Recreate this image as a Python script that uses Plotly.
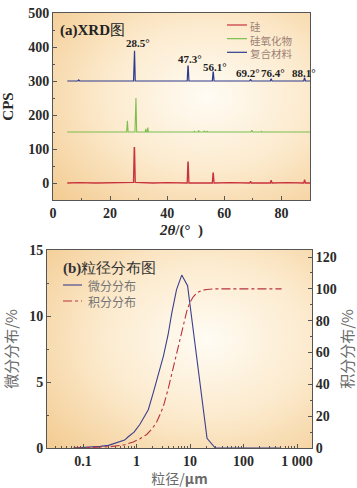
import base64
import plotly.graph_objects as go

# ---------------- (a) XRD data ----------------
si_x = [5, 9, 15, 22, 28.2, 28.45, 28.55, 28.8, 35, 40, 47.0, 47.25, 47.35, 47.6, 52, 55.8, 56.05, 56.15, 56.4,
        62, 68.9, 69.2, 69.5, 76.1, 76.4, 76.7, 82, 87.8, 88.1, 88.4, 90]
si_y = [0, 1, 0, 1, 2, 104, 104, 2, 0, 1, 0, 61, 61, 0, 1, 0, 29, 29, 0,
        1, 0, 5, 0, 0, 8, 0, 1, 0, 10, 0, 0]

ox_x = [5, 14.0, 14.2, 14.4, 20.0, 20.2, 20.4, 25.8, 26.05, 26.3, 28.7, 28.95, 29.05, 29.3, 32.3, 32.5, 32.7, 33.0,
        33.2, 33.4, 38.8, 39.0, 39.2, 40.8, 41.0, 41.2, 49.3, 49.5, 49.7, 50.8, 51.0, 51.2, 52.8, 53.0, 53.2,
        53.8, 54.0, 54.2, 57.8, 58.0, 58.2, 63.8, 64.0, 64.2, 69.3, 69.6, 69.9, 72.8, 73.0, 73.2, 79.8, 80.0,
        80.2, 90]
ox_y = [150, 150, 152, 150, 150, 152, 150, 150, 183, 150, 150, 250, 250, 150, 150, 159, 150, 150,
        163, 150, 150, 152, 150, 150, 152, 150, 150, 153, 150, 150, 155, 150, 150, 154, 150,
        150, 153, 150, 150, 152, 150, 150, 152, 150, 150, 155, 150, 150, 152, 150, 150, 152,
        150, 150]

cm_x = [5, 8.7, 9.0, 9.3, 28.2, 28.45, 28.55, 28.8, 47.0, 47.25, 47.35, 47.6, 55.8, 56.05, 56.15, 56.4,
        68.9, 69.2, 69.5, 76.1, 76.4, 76.7, 87.8, 88.1, 88.4, 90]
cm_y = [300, 300, 303, 300, 300, 389, 389, 300, 300, 344, 344, 300, 300, 326, 326, 300,
        300, 305, 300, 300, 307, 300, 300, 310, 300, 300]

peak_x = [29.7, 47.9, 56.6, 68.4, 77.0, 87.9]
peak_y = [412, 365, 342, 324, 324, 324]
peak_txt = ["28.5°", "47.3°", "56.1°", "69.2°", "76.4°", "88.1°"]

xrd_names = ["硅", "硅氧化物", "复合材料"]
xrd_colors = ["#C8323C", "#7DBE4E", "#2E3A8C"]

# ---------------- (b) particle size data ----------------
diff_x = [0.066, 0.1, 0.15, 0.21, 0.3, 0.43, 0.6, 0.7, 0.9, 1.16, 1.66, 2.06, 2.6, 3.2, 3.9, 4.55,
          5.6, 7.0, 9.0, 20.8, 29.6, 100, 480]
diff_y = [0, 0.03, 0.07, 0.12, 0.2, 0.38, 0.6, 0.85, 1.2, 1.8, 2.9, 4.2, 5.8, 7.0, 8.6, 10.2,
          12.0, 13.1, 12.3, 0.73, 0, 0, 0]

cum_x = [0.07, 0.2, 0.32, 0.6, 0.87, 1.16, 1.55, 2.0, 2.39, 2.75, 3.17, 3.9, 4.9, 5.6, 6.5, 7.6,
         8.7, 10, 11.5, 13.5, 16.6, 20.5, 30, 100, 515]
cum_y = [0, 0.3, 0.8, 2.0, 3.8, 5.8, 8.5, 12.5, 16.5, 21, 26, 37, 51, 60, 70, 79,
         86, 91.5, 95, 97.5, 99, 99.6, 100, 100, 100]

psd_names = ["微分分布", "积分分布"]

size_ticks = [0.1, 1, 10, 100, 1000]
size_ticktext = ["0.1", "1", "10", "100", "1 000"]

# ---------------- styling ----------------
W, H = 357, 488
SERIF = "Liberation Serif"
CJK = "Noto Sans CJK SC"
AXC = "#555555"
TICKF = dict(family=SERIF, size=14, color="#2a2a2a", weight="bold")


def px_dom(a, b, total, flip=False):
    if flip:
        return [1 - b / total, 1 - a / total]
    return [a / total, b / total]


def px(xp):
    return xp / W


def py(yp):
    return 1 - yp / H


xa_dom = px_dom(53, 310, W)
ya_dom = px_dom(13, 200, H, flip=True)
xb_dom = px_dom(47, 312, W)
yb_dom = px_dom(250, 448, H, flip=True)

svg = ("<svg xmlns='http://www.w3.org/2000/svg' viewBox='0 0 100 100' width='100' height='100' "
       "preserveAspectRatio='none'><defs><radialGradient id='g' cx='0.6' cy='0.45' r='0.8'>"
       "<stop offset='0' stop-color='#FFFCF4'/><stop offset='0.5' stop-color='#FCEACD'/>"
       "<stop offset='1' stop-color='#F3CC93'/></radialGradient></defs>"
       "<rect x='0' y='0' width='100' height='100' fill='url(#g)'/></svg>")
bg_src = "data:image/svg+xml;base64," + base64.b64encode(svg.encode()).decode()

fig = go.Figure()

for xs, ys, nm, col, w in zip([si_x, ox_x, cm_x], [si_y, ox_y, cm_y], xrd_names, xrd_colors, [1.3, 1.1, 1.2]):
    fig.add_trace(go.Scatter(x=xs, y=ys, mode="lines", name=nm, line=dict(color=col, width=w),
                             xaxis="x", yaxis="y", showlegend=False))

fig.add_trace(go.Scatter(x=diff_x, y=diff_y, mode="lines", name=psd_names[0],
                         line=dict(color="#3B3F8F", width=1.1), xaxis="x2", yaxis="y2", showlegend=False))
fig.add_trace(go.Scatter(x=cum_x, y=cum_y, mode="lines", name=psd_names[1],
                         line=dict(color="#B8323C", width=1.1, dash="dashdot"),
                         xaxis="x2", yaxis="y3", showlegend=False))

# peak labels
for xv, yv, t in zip(peak_x, peak_y, peak_txt):
    fig.add_annotation(x=xv, y=yv, xref="x", yref="y", text="<b>" + t + "</b>", showarrow=False,
                       font=dict(family=SERIF, size=11, color="#222222"))

# panel labels
fig.add_annotation(x=px(58), y=py(30), xref="paper", yref="paper", xanchor="left", yanchor="middle",
                   text="<b>(a)XRD</b>图", showarrow=False, font=dict(family=SERIF, size=15, color="#222222"))
fig.add_annotation(x=px(61), y=py(268), xref="paper", yref="paper", xanchor="left", yanchor="middle",
                   text="<b>(b)</b>粒径分布图", showarrow=False, font=dict(family=SERIF, size=15, color="#333333"))

shapes = []

# legend (a): short line keys + one multi-line label block
LEG_A_FONT = 10.5
row_h = LEG_A_FONT * 1.3
first_row = 25
for i, col in enumerate(xrd_colors):
    yk = first_row + row_h * i
    shapes.append(dict(type="line", xref="paper", yref="paper", x0=px(227), x1=px(247), y0=py(yk), y1=py(yk),
                       line=dict(color=col, width=1.2)))
fig.add_annotation(x=px(249), y=py(first_row - row_h / 2), xref="paper", yref="paper", xanchor="left",
                   yanchor="top", align="left", text="<br>".join(xrd_names), showarrow=False,
                   font=dict(family=CJK, size=LEG_A_FONT, color="#9C7F74"), borderpad=0)

# legend (b)
for i, (nm, col, dash) in enumerate(zip(psd_names, ["#3B3F8F", "#B8323C"], ["solid", "dashdot"])):
    yk = 285 + 16 * i
    shapes.append(dict(type="line", xref="paper", yref="paper", x0=px(63), x1=px(82), y0=py(yk), y1=py(yk),
                       line=dict(color=col, width=1.1, dash=dash)))
    fig.add_annotation(x=px(86), y=py(yk), xref="paper", yref="paper", xanchor="left", yanchor="middle",
                       text=nm, showarrow=False, font=dict(family=CJK, size=12, color="#757575"))

axis_common = dict(showline=True, linecolor=AXC, linewidth=1, ticks="inside", ticklen=4, tickcolor=AXC,
                   showgrid=False, zeroline=False, tickfont=TICKF, automargin=False)

fig.update_layout(
    width=W, height=H,
    margin=dict(l=0, r=0, t=0, b=0),
    paper_bgcolor="white", plot_bgcolor="rgba(0,0,0,0)",
    showlegend=False,
    shapes=shapes,
    xaxis=dict(domain=xa_dom, anchor="y", range=[0, 90], dtick=20, mirror=True,
               minor=dict(dtick=10, ticks="inside", ticklen=2, tickcolor=AXC),
               title=dict(text="<b><i>2θ</i>/(°  )</b>", font=dict(family=SERIF, size=15, color="#2a2a2a"),
                          standoff=4), **axis_common),
    yaxis=dict(domain=ya_dom, anchor="x", range=[-50, 500], dtick=100, mirror=True,
               minor=dict(dtick=50, ticks="inside", ticklen=2, tickcolor=AXC),
               title=dict(text="<b>CPS</b>", font=dict(family=SERIF, size=15, color="#2a2a2a"), standoff=10),
               **axis_common),
    xaxis2=dict(domain=xb_dom, anchor="y2", type="log", range=[-1.673, 3.28], tickmode="array",
                tickvals=size_ticks, ticktext=size_ticktext, mirror=True,
                minor=dict(tickmode="array", ticks="inside", ticklen=2, tickcolor=AXC,
                           tickvals=[m * 10 ** e for e in range(-2, 4) for m in range(2, 10)]),
                title=dict(text="粒径/<b>μm</b>", font=dict(family=CJK, size=14, color="#6a6a6a"), standoff=2),
                **axis_common),
    yaxis2=dict(domain=yb_dom, anchor="x2", range=[0, 15], dtick=5,
                minor=dict(dtick=2.5, ticks="inside", ticklen=2, tickcolor=AXC),
                title=dict(text="微分分布/%", font=dict(family=CJK, size=15, color="#6a6a6a"), standoff=12),
                **axis_common),
    yaxis3=dict(overlaying="y2", anchor="x2", side="right", range=[0, 124.4], dtick=20,
                minor=dict(dtick=10, ticks="inside", ticklen=2, tickcolor=AXC),
                title=dict(text="积分分布/%", font=dict(family=CJK, size=15, color="#6a6a6a"), standoff=6),
                **axis_common),
    images=[
        dict(source=bg_src, xref="paper", yref="paper", x=xa_dom[0], y=ya_dom[1],
             sizex=xa_dom[1] - xa_dom[0], sizey=ya_dom[1] - ya_dom[0], sizing="stretch",
             xanchor="left", yanchor="top", layer="below"),
        dict(source=bg_src, xref="paper", yref="paper", x=xb_dom[0], y=yb_dom[1],
             sizex=xb_dom[1] - xb_dom[0], sizey=yb_dom[1] - yb_dom[0], sizing="stretch",
             xanchor="left", yanchor="top", layer="below"),
    ],
)

fig.write_html("out.html", post_script="document.body.style.margin='0';",
               config={"displayModeBar": False})
